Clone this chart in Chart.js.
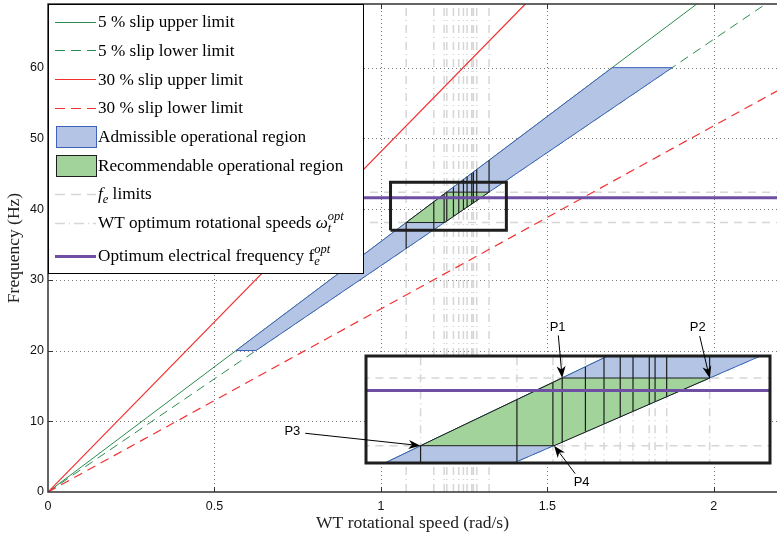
<!DOCTYPE html>
<html>
<head>
<meta charset="utf-8">
<script src="https://cdn.jsdelivr.net/npm/chart.js@4.4.0/dist/chart.umd.min.js"></script>
<style>
  body { margin: 0; background: #fff; }
  #wrap { position: relative; width: 777px; height: 540px; }
  #wrap canvas { position: absolute; left: 0; top: 0; }
  #zoomChart { pointer-events: none; }
</style>
</head>
<body>
<div id="wrap">
  <canvas id="mainChart" width="777" height="540"></canvas>
  <canvas id="zoomChart" width="777" height="540"></canvas>
</div>
<script>
// axis ranges and ticks
const xMax = 2.19;
const yMax = 69;
const xTicks = [0, 0.5, 1, 1.5, 2];
const yTicks = [0, 10, 20, 30, 40, 50, 60];

// slip limit lines (origin -> where they leave the plot)
const slip5UpperX = [0, 1.949];
const slip5UpperY = [0, 69];
const slip5LowerX = [0, 2.156];
const slip5LowerY = [0, 69];
const slip30UpperX = [0, 1.434];
const slip30UpperY = [0, 69];
const slip30LowerX = [0, 2.19];
const slip30LowerY = [0, 56.7];

// admissible region (blue)
const admissibleX = [0.565, 1.695, 1.875, 0.625];
const admissibleY = [20, 60, 60, 20];

// recommendable region (green): P3, P1, P2, P4
const recommendX = [1.076, 1.198, 1.325, 1.191];
const recommendY = [38.1, 42.4, 42.4, 38.1];
const pointNames = ['P3', 'P1', 'P2', 'P4'];
const labelX = [0.734, 1.531, 1.952, 1.603];
const labelY = [8.5, 23.2, 23.2, 1.4];

// electrical frequency
const feLimits = [38.1, 42.4];
const feOpt = 41.6;

// WT optimum rotational speeds and their admissible frequency span
const wOpt = [1.076, 1.159, 1.190, 1.198, 1.218, 1.234, 1.248, 1.259, 1.273, 1.278, 1.288, 1.325];
const wOptLow = [34.4, 37.1, 38.1, 38.3, 39.0, 39.5, 39.9, 40.3, 40.7, 40.9, 41.2, 42.4];
const wOptHigh = [38.1, 41.0, 42.1, 42.4, 43.1, 43.7, 44.2, 44.6, 45.1, 45.2, 45.6, 46.9];

// zoomed window
const zoomX = [1.029, 1.377];
const zoomY = [37.0, 43.8];

const GREEN = '#2a8c4e';
const RED = '#f23030';
const BLUE_FILL = '#b3c4e4';
const BLUE_EDGE = '#3d62b8';
const GREEN_FILL = '#a2d39b';
const PURPLE = '#6f4fa3';
const GRAY = '#d6d6d6';
const DARK = '#1e1e1e';

function pts(xs, ys) { return xs.map((x, i) => ({ x: x, y: ys[i] })); }
function closed(xs, ys) { const p = pts(xs, ys); p.push(p[0]); return p; }
function vSegs(xs, lo, hi) {
  const out = [];
  xs.forEach((x, i) => { out.push({ x: x, y: lo[i] }, { x: x, y: hi[i] }, { x: x, y: null }); });
  return out;
}
function hSegs(ys) {
  const out = [];
  ys.forEach(y => { out.push({ x: 0, y: y }, { x: xMax, y: y }, { x: xMax, y: null }); });
  return out;
}
function line(data, color, width, dash, order, extra) {
  return Object.assign({
    data: data, borderColor: color, borderWidth: width, borderDash: dash,
    pointRadius: 0, fill: false, tension: 0, spanGaps: false, order: order
  }, extra || {});
}

function layers(withBox) {
  const sets = [
    line(vSegs(wOpt, wOpt.map(() => 0), wOpt.map(() => yMax)), GRAY, 1.5, [8, 4, 1, 4], 12),
    line(hSegs(feLimits), GRAY, 1.5, [8, 6], 11),
    line(pts(slip5UpperX, slip5UpperY), GREEN, 1, [], 9),
    line(pts(slip5LowerX, slip5LowerY), GREEN, 1, [9, 6], 8),
    line(pts(slip30UpperX, slip30UpperY), RED, 1.2, [], 7),
    line(pts(slip30LowerX, slip30LowerY), RED, 1.2, [9, 6], 6),
    line(closed(admissibleX, admissibleY), BLUE_EDGE, 1, [], 5, { fill: 'shape', backgroundColor: BLUE_FILL }),
    line(closed(recommendX, recommendY), DARK, 1, [], 4, { fill: 'shape', backgroundColor: GREEN_FILL }),
    line(vSegs(wOpt, wOptLow, wOptHigh), DARK, 1.2, [], 3),
    line(hSegs([feOpt]), PURPLE, 3, [], 2)
  ];
  if (withBox) {
    sets.push(line(closed([zoomX[0], zoomX[1], zoomX[1], zoomX[0]], [zoomY[0], zoomY[0], zoomY[1], zoomY[1]]),
      DARK, 3, [], 1, { borderJoinStyle: 'miter' }));
  }
  return sets;
}

// legend rows (runs: text, italic, sub/sup)
const legendRows = [
  { type: 'line', color: GREEN, dash: [], runs: [['5 % slip upper limit']] },
  { type: 'line', color: GREEN, dash: [10, 6], runs: [['5 % slip lower limit']] },
  { type: 'line', color: RED, dash: [], width: 1.2, runs: [['30 % slip upper limit']] },
  { type: 'line', color: RED, dash: [10, 6], width: 1.2, runs: [['30 % slip lower limit']] },
  { type: 'patch', fill: BLUE_FILL, edge: BLUE_EDGE, runs: [['Admissible operational region']] },
  { type: 'patch', fill: GREEN_FILL, edge: DARK, runs: [['Recommendable operational region']] },
  { type: 'line', color: GRAY, dash: [10, 6], width: 1.5, runs: [['f', true], ['e', true, 'sub'], [' limits']] },
  { type: 'line', color: GRAY, dash: [10, 4, 1, 4], width: 1.5,
    runs: [['WT optimum rotational speeds '], ['ω', true], ['t', true, 'sub'], ['opt', true, 'sup']] },
  { type: 'line', color: PURPLE, dash: [], width: 3,
    runs: [['Optimum electrical frequency f'], ['e', true, 'sub'], ['opt', true, 'sup']] }
];

function drawRuns(ctx, runs, x, cy) {
  let cx = x, subX = x, lastPos = '';
  const base = cy + 5.5;
  ctx.textAlign = 'left';
  ctx.textBaseline = 'alphabetic';
  ctx.fillStyle = '#000';
  runs.forEach(([text, ital, pos]) => {
    const small = pos === 'sub' || pos === 'sup';
    ctx.font = (ital ? 'italic ' : '') + (small ? 12.5 : 17.2) + 'px "Liberation Serif"';
    let px = cx;
    if (pos === 'sup' && lastPos === 'sub') px = subX;
    if (pos === 'sub') subX = px;
    const by = pos === 'sub' ? base + 4 : pos === 'sup' ? base - 8 : base;
    ctx.fillText(text, px, by);
    cx = Math.max(cx, px + ctx.measureText(text).width);
    lastPos = pos;
  });
}

const legendBox = {
  id: 'legendBox',
  afterDraw(chart) {
    const ctx = chart.ctx;
    const L = 48.5, T = 4.5, R = 363.5, B = 273.5;
    ctx.save();
    ctx.fillStyle = '#fff';
    ctx.fillRect(L, T, R - L, B - T);
    ctx.strokeStyle = '#000';
    ctx.lineWidth = 1;
    ctx.strokeRect(L, T, R - L, B - T);
    legendRows.forEach((row, i) => {
      const cy = 21.7 + i * 28.7 + (i === 8 ? 4.5 : 0);
      if (row.type === 'line') {
        ctx.strokeStyle = row.color;
        ctx.lineWidth = row.width || 1;
        ctx.setLineDash(row.dash);
        ctx.beginPath();
        ctx.moveTo(55, Math.round(cy) + 0.5);
        ctx.lineTo(96, Math.round(cy) + 0.5);
        ctx.stroke();
        ctx.setLineDash([]);
      } else {
        ctx.fillStyle = row.fill;
        ctx.fillRect(56.5, Math.round(cy - 10.5) + 0.5, 40, 21);
        ctx.strokeStyle = row.edge;
        ctx.lineWidth = 1;
        ctx.strokeRect(56.5, Math.round(cy - 10.5) + 0.5, 40, 21);
      }
      drawRuns(ctx, row.runs, 98, cy);
    });
    ctx.restore();
  }
};

// dotted grid under the data, axis frame and inward ticks on top
const frame = {
  id: 'frame',
  beforeDatasetsDraw(chart) {
    const { ctx, chartArea: a, scales: { x, y } } = chart;
    ctx.save();
    ctx.strokeStyle = '#777';
    ctx.lineWidth = 1;
    ctx.setLineDash([1, 3]);
    xTicks.slice(1).forEach(v => {
      const px = Math.round(x.getPixelForValue(v)) + 0.5;
      ctx.beginPath(); ctx.moveTo(px, a.bottom); ctx.lineTo(px, a.top); ctx.stroke();
    });
    yTicks.slice(1).forEach(v => {
      const py = Math.round(y.getPixelForValue(v)) + 0.5;
      ctx.beginPath(); ctx.moveTo(a.left, py); ctx.lineTo(a.right, py); ctx.stroke();
    });
    ctx.restore();
  },
  afterDatasetsDraw(chart) {
    const { ctx, chartArea: a, scales: { x, y } } = chart;
    ctx.save();
    ctx.strokeStyle = '#333';
    ctx.lineWidth = 1.5;
    ctx.beginPath();
    ctx.moveTo(a.right, a.top); ctx.lineTo(a.left, a.top);
    ctx.lineTo(a.left, a.bottom); ctx.lineTo(a.right, a.bottom);
    ctx.stroke();
    ctx.lineWidth = 1;
    xTicks.slice(1).forEach(v => {
      const px = Math.round(x.getPixelForValue(v)) + 0.5;
      ctx.beginPath();
      ctx.moveTo(px, a.bottom); ctx.lineTo(px, a.bottom - 5);
      ctx.moveTo(px, a.top); ctx.lineTo(px, a.top + 5);
      ctx.stroke();
    });
    yTicks.slice(1).forEach(v => {
      const py = Math.round(y.getPixelForValue(v)) + 0.5;
      ctx.beginPath(); ctx.moveTo(a.left, py); ctx.lineTo(a.left + 5, py); ctx.stroke();
    });
    ctx.restore();
  }
};

const tickFont = { family: '"Liberation Sans", Arial, sans-serif', size: 12.5 };
const titleFont = { family: '"Liberation Serif", serif', size: 17.5 };

const mainChart = new Chart(document.getElementById('mainChart'), {
  type: 'line',
  data: { datasets: layers(true) },
  options: {
    responsive: false,
    animation: false,
    events: [],
    layout: { padding: { top: 4, right: 0, left: 0, bottom: 0 } },
    plugins: { legend: { display: false }, tooltip: { enabled: false } },
    scales: {
      x: {
        type: 'linear', min: 0, max: xMax,
        grid: { display: false, drawTicks: false },
        border: { display: false },
        afterBuildTicks: s => { s.ticks = xTicks.map(v => ({ value: v })); },
        afterFit: s => { s.height = 48; s.paddingLeft = 0; s.paddingRight = 0; },
        ticks: { padding: 7, font: tickFont, color: '#111', maxRotation: 0, callback: v => String(v) },
        title: { display: true, text: 'WT rotational speed (rad/s)', font: titleFont, color: '#222', padding: { top: 0, bottom: 6 } }
      },
      y: {
        type: 'linear', min: 0, max: yMax,
        grid: { display: false, drawTicks: false },
        border: { display: false },
        afterBuildTicks: s => { s.ticks = yTicks.map(v => ({ value: v })); },
        afterFit: s => { s.width = 48; s.paddingTop = 0; s.paddingBottom = 0; },
        ticks: { padding: 4, font: tickFont, color: '#111', callback: v => String(v) },
        title: { display: true, text: 'Frequency (Hz)', font: titleFont, color: '#222', padding: { top: 4, bottom: 0 } }
      }
    }
  },
  plugins: [frame, legendBox]
});

// inset: white panel, thick frame, arrows with point labels
const insetFrame = {
  id: 'insetFrame',
  beforeDatasetsDraw(chart) {
    const { ctx, chartArea: a } = chart;
    ctx.save();
    ctx.fillStyle = '#fff';
    ctx.fillRect(a.left, a.top, a.right - a.left, a.bottom - a.top);
    ctx.restore();
  },
  afterDraw(chart) {
    const { ctx, chartArea: a, scales: { x, y } } = chart;
    const mx = mainChart.scales.x, my = mainChart.scales.y;
    ctx.save();
    ctx.lineWidth = 3;
    ctx.strokeStyle = DARK;
    ctx.strokeRect(a.left, a.top, a.right - a.left, a.bottom - a.top);
    pointNames.forEach((name, i) => {
      const tx = x.getPixelForValue(recommendX[i]), ty = y.getPixelForValue(recommendY[i]);
      const lx = mx.getPixelForValue(labelX[i]), ly = my.getPixelForValue(labelY[i]);
      const dx = tx - lx, dy = ty - ly, len = Math.hypot(dx, dy);
      const ux = dx / len, uy = dy / len;
      const off = 7 + 6 * Math.abs(ux);
      ctx.strokeStyle = '#000';
      ctx.lineWidth = 1;
      ctx.beginPath();
      ctx.moveTo(lx + ux * off, ly + uy * off);
      ctx.lineTo(tx - ux * 8, ty - uy * 8);
      ctx.stroke();
      ctx.fillStyle = '#000';
      ctx.beginPath();
      ctx.moveTo(tx, ty);
      ctx.lineTo(tx - ux * 12 - uy * 4.5, ty - uy * 12 + ux * 4.5);
      ctx.lineTo(tx - ux * 8.5, ty - uy * 8.5);
      ctx.lineTo(tx - ux * 12 + uy * 4.5, ty - uy * 12 - ux * 4.5);
      ctx.closePath();
      ctx.fill();
      ctx.font = '13px "Liberation Sans", Arial, sans-serif';
      ctx.textAlign = 'center';
      ctx.textBaseline = 'middle';
      ctx.fillText(name, lx, ly);
    });
    ctx.restore();
  }
};

const zoomChart = new Chart(document.getElementById('zoomChart'), {
  type: 'line',
  data: { datasets: layers(false).map(d => Object.assign(d, { clip: 0 })) },
  options: {
    responsive: false,
    animation: false,
    events: [],
    layout: { padding: { left: 366, top: 356, right: 7, bottom: 77 } },
    plugins: { legend: { display: false }, tooltip: { enabled: false } },
    scales: {
      x: { type: 'linear', display: false, min: zoomX[0], max: zoomX[1] },
      y: { type: 'linear', display: false, min: zoomY[0], max: zoomY[1] }
    }
  },
  plugins: [insetFrame]
});
</script>
</body>
</html>
